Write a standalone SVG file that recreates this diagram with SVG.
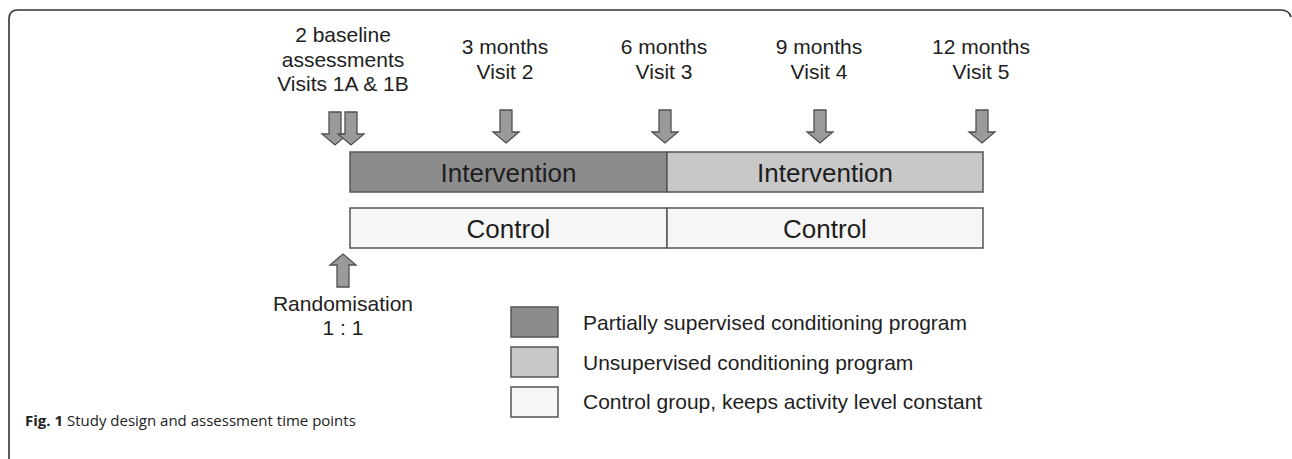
<svg xmlns="http://www.w3.org/2000/svg" width="1292" height="459" viewBox="0 0 1292 459">
<style>
.t{font-family:"Liberation Sans",Arial,sans-serif;font-size:21px;fill:#1e1e1e;text-anchor:middle}
.b{font-family:"Liberation Sans",Arial,sans-serif;font-size:26px;fill:#1e1e1e;text-anchor:middle}
.l{font-family:"Liberation Sans",Arial,sans-serif;font-size:21px;fill:#1e1e1e}
.arr{fill:#9a9a9a;stroke:#505050;stroke-width:1.3;stroke-linejoin:miter}
.box{stroke:#555;stroke-width:1.5}
.dark{fill:#8c8c8c}
.light{fill:#c8c8c8}
.ctrl{fill:#f6f6f6}
.cap{font-family:"Open Sans","Noto Sans",sans-serif;font-size:15px;fill:#222}
</style>
<defs>
<path id="down" class="arr" d="M-6,0 H6 V22 H13 L0,33 L-13,22 H-6 Z"/>
<path id="up" class="arr" d="M-6,33 H6 V11 H13 L0,0 L-13,11 H-6 Z"/>
</defs>
<path d="M9,459 V19 Q9,10 18,10 H1281 Q1289,10 1291,17" fill="none" stroke="#333" stroke-width="1.6"/>
<g id="label-baseline">
<text class="t" x="343" y="42">2 baseline</text>
<text class="t" x="343" y="67">assessments</text>
<text class="t" x="343" y="91">Visits 1A &amp; 1B</text>
</g>
<g id="label-v2"><text class="t" x="505" y="54">3 months</text><text class="t" x="505" y="79">Visit 2</text></g>
<g id="label-v3"><text class="t" x="664" y="54">6 months</text><text class="t" x="664" y="79">Visit 3</text></g>
<g id="label-v4"><text class="t" x="819" y="54">9 months</text><text class="t" x="819" y="79">Visit 4</text></g>
<g id="label-v5"><text class="t" x="981" y="54">12 months</text><text class="t" x="981" y="79">Visit 5</text></g>
<g id="connectors">
<use href="#down" x="335" y="112"/>
<use href="#down" x="351" y="112"/>
<use href="#down" x="506" y="110"/>
<use href="#down" x="665" y="110"/>
<use href="#down" x="820" y="110"/>
<use href="#down" x="982" y="110"/>
<use href="#up" x="343" y="254"/>
</g>
<g id="intervention1"><rect class="box dark" x="350" y="152" width="317" height="40"/><text class="b" x="508.5" y="182">Intervention</text></g>
<g id="intervention2"><rect class="box light" x="667" y="152" width="316" height="40"/><text class="b" x="825" y="182">Intervention</text></g>
<g id="control1"><rect class="box ctrl" x="350" y="208" width="317" height="40"/><text class="b" x="508.5" y="238">Control</text></g>
<g id="control2"><rect class="box ctrl" x="667" y="208" width="316" height="40"/><text class="b" x="825" y="238">Control</text></g>
<g id="randomisation"><text class="t" x="343" y="311">Randomisation</text><text class="t" x="343" y="335">1 : 1</text></g>
<g id="legend">
<rect class="box dark" x="511" y="307" width="47" height="30"/>
<text class="l" x="583" y="330">Partially supervised conditioning program</text>
<rect class="box light" x="511" y="347" width="47" height="30"/>
<text class="l" x="583" y="370">Unsupervised conditioning program</text>
<rect class="box ctrl" x="511" y="387" width="47" height="30"/>
<text class="l" x="583" y="409">Control group, keeps activity level constant</text>
</g>
<text class="cap" x="25" y="426"><tspan font-weight="bold">Fig. 1</tspan> Study design and assessment time points</text>
</svg>
